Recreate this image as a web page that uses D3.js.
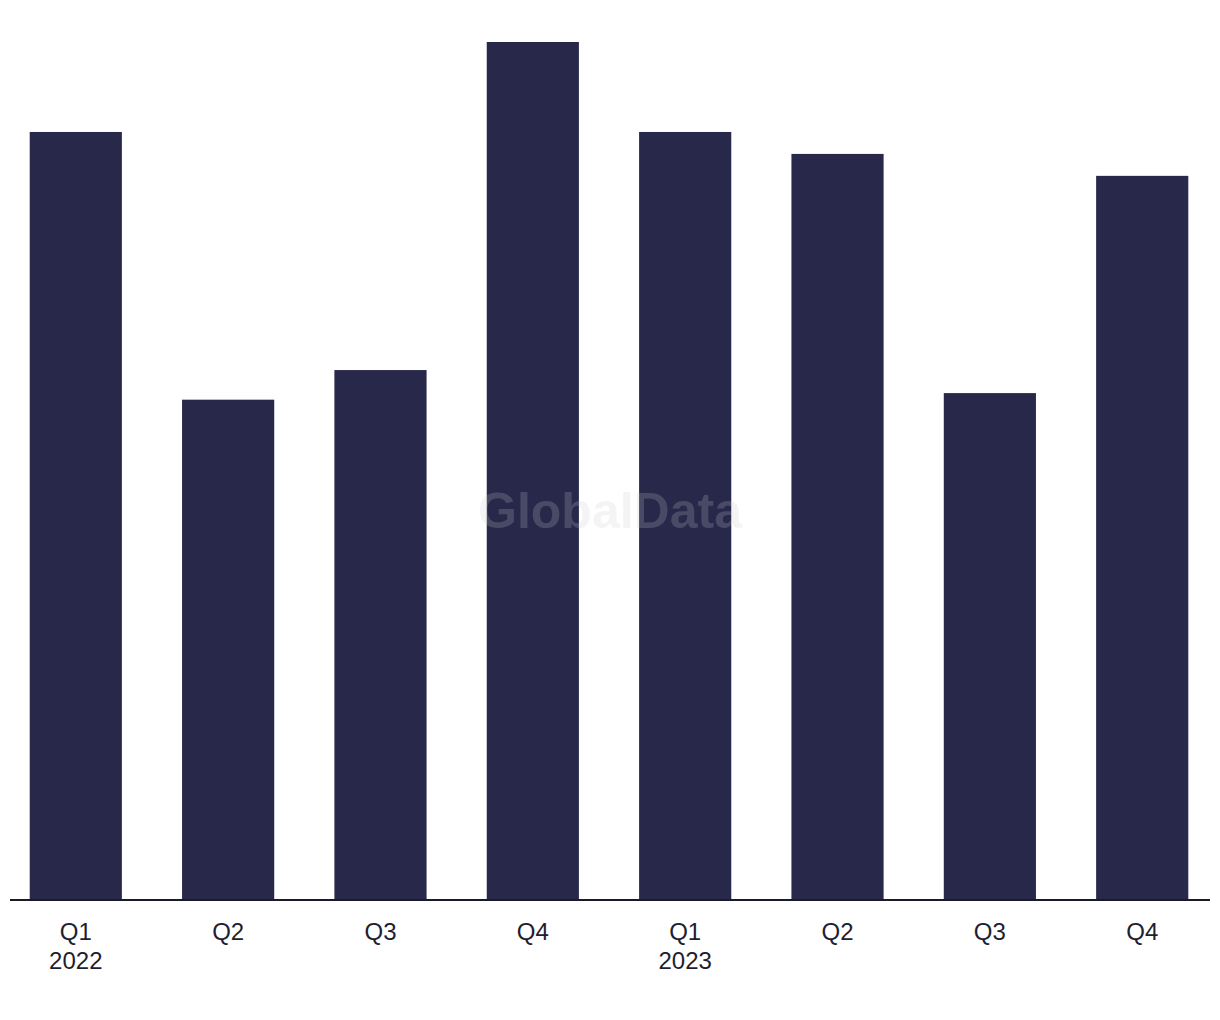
<!DOCTYPE html>
<meta charset="utf-8">
<style>
body { margin: 0; background: #fff; }
.tick text { font-family: "Liberation Sans", Arial, sans-serif; font-size: 24px; fill: #1e1e30; }
</style>
<svg width="1220" height="1020"></svg>
<script src="https://d3js.org/d3.v7.min.js"></script>
<script>
// quarters, year labels under the first quarter of each year
var quarters = ["Q1", "Q2", "Q3", "Q4", "Q1", "Q2", "Q3", "Q4"];
var years = ["2022", "", "", "", "2023", "", "", ""];
var deals = [35, 22.8, 24.15, 39.1, 35, 34, 23.1, 33];

var svg = d3.select("svg"),
    baseline = 900,
    plotTop = 42;

var keys = quarters.map(function(q, i) { return i; });

var x = d3.scaleBand().domain(keys).range([0, 1218])
    .paddingInner(0.395).paddingOuter(0.195);
var y = d3.scaleLinear().domain([0, 39.1]).range([baseline, plotTop]);

svg.selectAll(".bar")
    .data(deals)
  .enter().append("rect")
    .attr("class", "bar")
    .attr("x", function(d, i) { return x(i); })
    .attr("y", function(d) { return y(d); })
    .attr("width", x.bandwidth())
    .attr("height", function(d) { return baseline - y(d); })
    .attr("fill", "#28284b");

// watermark over the bars
svg.append("text")
    .attr("x", 610).attr("y", 528)
    .attr("text-anchor", "middle")
    .style("font-family", "Liberation Sans, Arial, sans-serif")
    .style("font-weight", "bold")
    .style("font-size", "50px")
    .attr("fill", "#cccccc")
    .attr("fill-opacity", 0.21)
    .text("GlobalData");

var axis = svg.append("g")
    .attr("transform", "translate(0," + baseline + ")")
    .call(d3.axisBottom(x).tickSize(0).tickPadding(23)
      .tickFormat(function(i) { return quarters[i]; }));

axis.select(".domain").remove();
axis.append("line")
    .attr("x1", 10).attr("x2", 1210)
    .attr("stroke", "#1a1a2a").attr("stroke-width", 2);

axis.selectAll(".tick").append("text")
    .attr("fill", "#1e1e30")
    .attr("y", 52)
    .attr("dy", "0.71em")
    .text(function(i) { return years[i]; });
</script>
